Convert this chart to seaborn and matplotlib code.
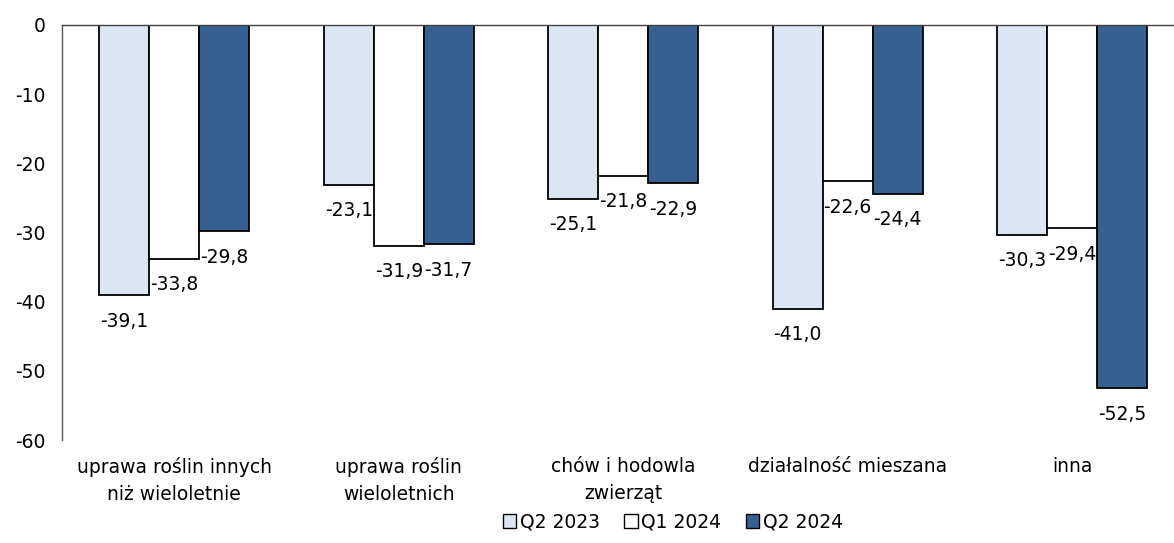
import seaborn as sns
import matplotlib.pyplot as plt
import pandas as pd
from matplotlib.patches import Patch

# data
categories = ["uprawa roślin innych\nniż wieloletnie", "uprawa roślin\nwieloletnich",
              "chów i hodowla\nzwierząt", "działalność mieszana", "inna"]
series = ["Q2 2023", "Q1 2024", "Q2 2024"]
q2_2023 = [-39.1, -23.1, -25.1, -41.0, -30.3]
q1_2024 = [-33.8, -31.9, -21.8, -22.6, -29.4]
q2_2024 = [-29.8, -31.7, -22.9, -24.4, -52.5]
colors = ["#DCE6F2", "#FFFFFF", "#376092"]

df = pd.DataFrame({
    "kategoria": categories * 3,
    "okres": [s for s in series for _ in categories],
    "wartosc": q2_2023 + q1_2024 + q2_2024,
})

sns.set_style("white")
plt.rcParams["font.family"] = ["DejaVu Sans"]
plt.rcParams["font.size"] = 13.5
plt.rcParams["axes.unicode_minus"] = False
plt.rcParams["text.color"] = "black"
plt.rcParams["xtick.color"] = "black"
plt.rcParams["ytick.color"] = "black"

fig = plt.figure(figsize=(11.74, 5.43), dpi=100)
W, H = 1174, 543
ax = fig.add_axes([62 / W, 1 - 440 / H, (1184.5 - 62) / W, (440 - 25) / H])

sns.barplot(data=df, x="kategoria", y="wartosc", hue="okres", order=categories,
            hue_order=series, palette=colors, saturation=1, width=0.668,
            edgecolor="black", linewidth=1.3, legend=False, ax=ax)

# value labels below the end of each bar
for cont in ax.containers:
    for bar in cont:
        v = bar.get_height()
        ax.annotate(f"{v:.1f}".replace(".", ","),
                    (bar.get_x() + bar.get_width() / 2, v),
                    xytext=(0, -26), textcoords="offset pixels",
                    ha="center", va="center", fontsize=13.5)

ax.set_ylim(-60, 0)
ax.set_xlim(-0.5, 4.5)
ax.set_yticks(range(-60, 1, 10))
ax.set_xlabel("")
ax.set_ylabel("")
ax.tick_params(axis="y", length=0, pad=12, labelsize=13.5)
ax.tick_params(axis="x", length=0, pad=12, labelsize=13.5)
for lab in ax.get_xticklabels():
    lab.set_linespacing(1.55)
for s in ["right", "bottom"]:
    ax.spines[s].set_visible(False)
ax.spines["left"].set_color("#595959")
ax.spines["top"].set_color("#404040")
ax.spines["left"].set_linewidth(1)
ax.spines["top"].set_linewidth(1)

handles = [Patch(facecolor=c, edgecolor="black", linewidth=1) for c in colors]
fig.legend(handles, series, loc="center", bbox_to_anchor=(673 / W, 1 - 522 / H),
           ncol=3, frameon=False, fontsize=13.5, handlelength=0.7, handleheight=0.7,
           handletextpad=0.2, columnspacing=1.3)

fig.savefig("out.png", dpi=100)
